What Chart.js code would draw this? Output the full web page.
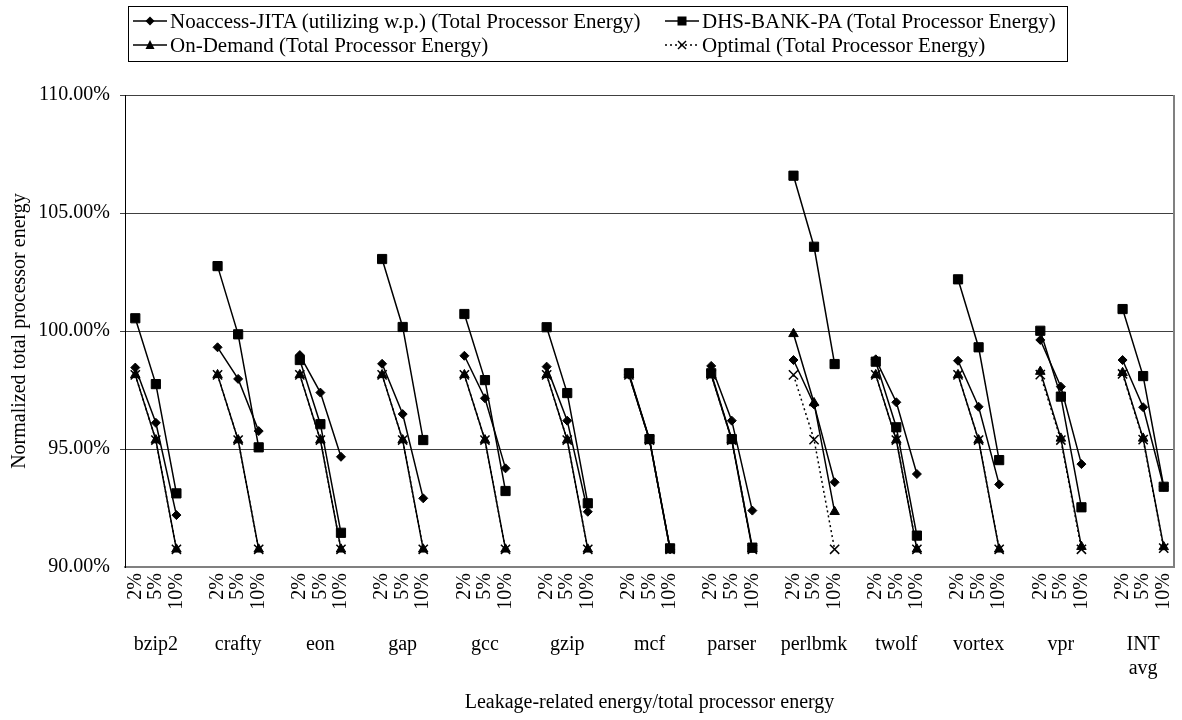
<!DOCTYPE html>
<html lang="en">
	<head>
		<meta charset="UTF-8" />
		<title>Normalized total processor energy</title>
		<script src="https://cdn.jsdelivr.net/npm/chart.js@4.4.1/dist/chart.umd.min.js"></script>
		<style>
			body { margin: 0; background: #fff; }
			#wrap { position: relative; width: 1182px; height: 720px; }
			#legend {
				position: absolute; left: 128px; top: 6px; width: 940px; height: 56px;
				border: 1px solid #000; box-sizing: border-box;
				font-family: "Liberation Serif", "Times New Roman", serif; font-size: 21px; color: #000;
			}
			.item { position: absolute; display: flex; align-items: center; height: 26px; white-space: nowrap; }
			.item svg { margin-right: 3px; }
		</style>
	</head>
	<body>
		<div id="wrap">
			<canvas id="chart" width="1182" height="720"></canvas>
			<div id="legend"></div>
		</div>
		<script>
			const groups = ["bzip2", "crafty", "eon", "gap", "gcc", "gzip", "mcf", "parser", "perlbmk", "twolf", "vortex", "vpr", ["INT", "avg"]];
			const levels = ["2%", "5%", "10%"];

			// three values per benchmark: 2%, 5%, 10%
			const noaccess = [
				98.45, 96.11, 92.2, 99.31, 97.97, 95.76, 98.98, 97.39, 94.67, 98.61, 96.48, 92.91,
				98.95, 97.15, 94.18, 98.49, 96.2, 92.34, 98.15, 95.38, 90.75, 98.52, 96.2, 92.39,
				98.77, 96.89, 93.59, 98.8, 96.98, 93.94, 98.74, 96.79, 93.5, 99.62, 97.64, 94.36,
				98.77, 96.77, 93.4,
			];
			const dhs = [
				100.54, 97.75, 93.12, 102.75, 99.86, 95.07, 98.77, 96.05, 91.45, 103.05, 100.17, 95.38,
				100.72, 97.92, 93.22, 100.16, 97.37, 92.7, 98.21, 95.42, 90.79, 98.21, 95.42, 90.82,
				106.58, 103.57, 98.6, 98.7, 95.92, 91.33, 102.19, 99.31, 94.53, 100.01, 97.22, 92.53,
				100.93, 98.09, 93.4,
			];
			const onDemand = [
				98.14, 95.38, 90.75, 98.14, 95.38, 90.75, 98.14, 95.38, 90.75, 98.14, 95.38, 90.75,
				98.14, 95.38, 90.75, 98.14, 95.38, 90.75, 98.14, 95.38, 90.75, 98.14, 95.38, 90.75,
				99.88, 96.95, 92.34, 98.14, 95.38, 90.75, 98.14, 95.38, 90.75, 98.28, 95.45, 90.86,
				98.23, 95.45, 90.85,
			];
			const optimal = [
				98.14, 95.38, 90.75, 98.14, 95.38, 90.75, 98.14, 95.38, 90.75, 98.14, 95.38, 90.75,
				98.14, 95.38, 90.75, 98.14, 95.38, 90.75, 98.14, 95.38, 90.75, 98.14, 95.38, 90.75,
				98.14, 95.4, 90.75, 98.14, 95.38, 90.75, 98.14, 95.38, 90.75, 98.15, 95.38, 90.75,
				98.18, 95.4, 90.8,
			];

			// one blank slot between benchmarks so lines break
			const labels = [];
			const groupLabels = [];
			groups.forEach((g, i) => {
				if (i) {
					labels.push("");
					groupLabels.push("");
				}
				labels.push(...levels);
				groupLabels.push("", g, "");
			});

			function spread(vals) {
				const out = [];
				groups.forEach((g, i) => {
					if (i) out.push(null);
					out.push(vals[3 * i], vals[3 * i + 1], vals[3 * i + 2]);
				});
				return out;
			}

			const font = { family: "'Liberation Serif', 'Times New Roman', serif", size: 20 };

			const series = [
				{ label: "Noaccess-JITA (utilizing w.p.) (Total Processor Energy)", data: noaccess, style: "rectRot", r: 4.5, dash: [] },
				{ label: "DHS-BANK-PA (Total Processor Energy)", data: dhs, style: "rect", r: 6.5, dash: [] },
				{ label: "On-Demand (Total Processor Energy)", data: onDemand, style: "triangle", r: 5.5, dash: [] },
				{ label: "Optimal (Total Processor Energy)", data: optimal, style: "crossRot", r: 6.5, dash: [2, 3] },
			];

			const frame = {
				id: "frame",
				beforeDatasetsDraw(chart) {
					const { ctx, chartArea: a } = chart;
					ctx.save();
					ctx.strokeStyle = "#808080";
					ctx.lineWidth = 2;
					ctx.beginPath();
					ctx.moveTo(a.right, a.top);
					ctx.lineTo(a.right, a.bottom);
					ctx.stroke();
					ctx.restore();
				},
			};

			const noPad = (s) => {
				s.paddingLeft = 0;
				s.paddingRight = 0;
			};

			new Chart(document.getElementById("chart"), {
				type: "line",
				data: {
					labels: labels,
					datasets: series.map((s) => ({
						label: s.label,
						data: spread(s.data),
						borderColor: "#000",
						backgroundColor: "#000",
						borderWidth: 1.5,
						borderDash: s.dash,
						pointStyle: s.style,
						pointRadius: s.r,
						pointBorderWidth: s.style === "crossRot" ? 1.5 : 1,
						pointBorderColor: "#000",
						pointBackgroundColor: "#000",
						spanGaps: false,
						tension: 0,
					})),
				},
				options: {
					responsive: false,
					animation: false,
					layout: { padding: { top: 95, right: 6, left: 0, bottom: 0 } },
					plugins: { legend: { display: false }, tooltip: { enabled: false } },
					scales: {
						x: {
							type: "category",
							offset: true,
							weight: 0,
							grid: { display: false, drawTicks: false },
							border: { color: "#808080", width: 2 },
							ticks: { autoSkip: false, minRotation: 90, maxRotation: 90, padding: 6, font: font, color: "#000" },
							afterFit: (s) => {
								s.height = 48;
								noPad(s);
							},
						},
						groups: {
							type: "category",
							axis: "x",
							position: "bottom",
							labels: groupLabels,
							offset: true,
							weight: 1,
							grid: { display: false, drawTicks: false },
							border: { display: false },
							ticks: { autoSkip: false, minRotation: 0, maxRotation: 0, padding: 18, font: font, color: "#000" },
							title: { display: true, text: "Leakage-related energy/total processor energy", font: font, color: "#000", padding: { top: 0, bottom: 5 } },
							afterFit: (s) => {
								s.height = 105;
								noPad(s);
							},
						},
						y: {
							min: 90,
							max: 110,
							ticks: { stepSize: 5, callback: (v) => v.toFixed(2) + "%", font: font, color: "#000", padding: 10 },
							grid: { color: (c) => (c.tick && c.tick.value === 90 ? "rgba(0,0,0,0)" : "#404040"), tickLength: 5 },
							border: { color: "#000", width: 1 },
							title: { display: true, text: "Normalized total processor energy", font: font, color: "#000", padding: { top: 8, bottom: 0 } },
							afterFit: (s) => { s.width = 125; },
						},
					},
				},
				plugins: [frame],
			});

			// legend as html, two aligned columns
			const marks = {
				rectRot: '<polygon points="17,8.5 21.5,13 17,17.5 12.5,13" fill="#000"/>',
				rect: '<rect x="12.5" y="8.5" width="9" height="9" fill="#000"/>',
				triangle: '<polygon points="17,8 21.5,17 12.5,17" fill="#000"/>',
				crossRot: '<path d="M13,9 L21,17 M21,9 L13,17" stroke="#000" stroke-width="1.5"/>',
			};
			const spots = [
				[4, 1],
				[536, 1],
				[4, 25],
				[536, 25],
			];
			const legend = document.getElementById("legend");
			series.forEach((s, i) => {
				const dash = s.dash.length ? ' stroke-dasharray="2,3"' : "";
				const el = document.createElement("div");
				el.className = "item";
				el.style.left = spots[i][0] + "px";
				el.style.top = spots[i][1] + "px";
				el.innerHTML =
					'<svg width="34" height="26"><line x1="0" y1="13" x2="34" y2="13" stroke="#000" stroke-width="1.5"' + dash + "/>" + marks[s.style] + "</svg>" +
					"<span>" + s.label + "</span>";
				legend.appendChild(el);
			});
		</script>
	</body>
</html>
